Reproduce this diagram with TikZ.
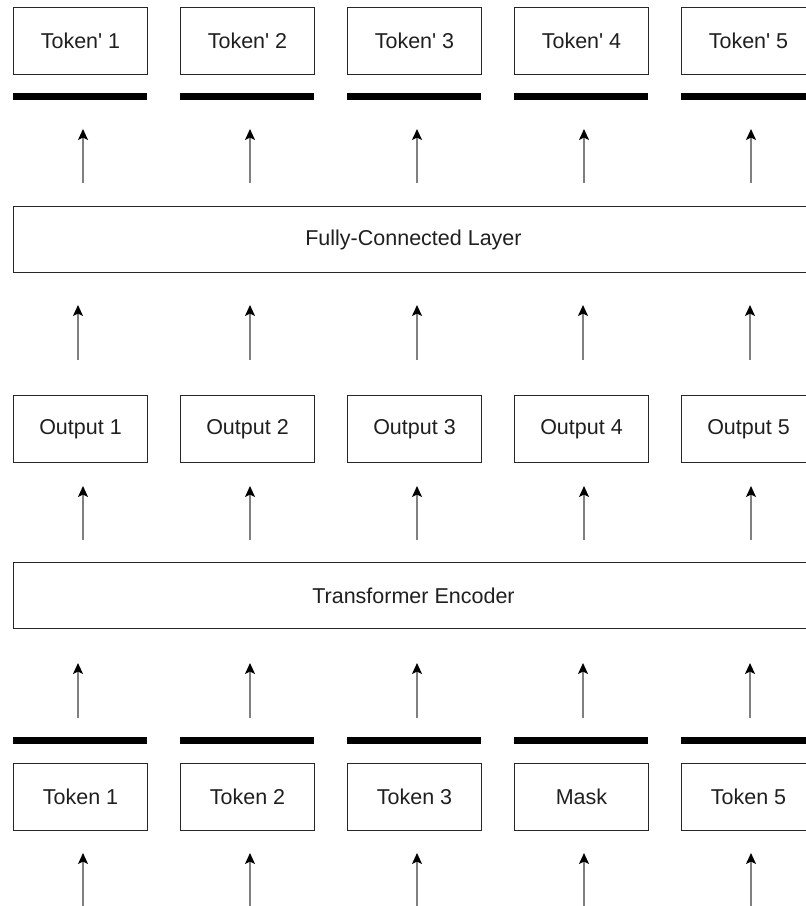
\documentclass[tikz,border=0pt]{standalone}
\usepackage{fontspec}
\newfontfamily\lsans{Liberation Sans}
\usetikzlibrary{arrows.meta}
\begin{document}
\begin{tikzpicture}[x=1pt,y=-1pt,
  box/.style={draw=black!85, line width=1pt, minimum width=134pt, minimum height=67pt,
    inner sep=0pt, anchor=north west, font=\lsans\fontsize{21.5}{25}\selectfont, text=black!88},
  wide/.style={box, minimum width=806pt, minimum height=66pt},
  barnode/.style={fill=black, draw=none, minimum width=134pt, minimum height=7pt,
    inner sep=0pt, anchor=north west},
  arr/.style={draw=black!50, line width=1.5pt,
    -{Stealth[length=11pt,width=10pt,inset=2.5pt,color=black]}}]
\useasboundingbox (0,0) rectangle (806,906);
\clip (0,0) rectangle (806,906);
% top output tokens
\foreach \i/\x in {1/13,2/180,3/347,4/514,5/681}{
  \node[box] (tp\i) at (\x,7) {Token' \i};
  \node[barnode] (bt\i) at (\x,93) {};
  \node[box] (out\i) at (\x,395) {Output \i};
  \node[barnode] (bb\i) at (\x,737) {};
}
\foreach \i/\x/\t in {1/13/Token 1,2/180/Token 2,3/347/Token 3,4/514/Mask,5/681/Token 5}{
  \node[box] (tok\i) at (\x,763) {\t};
}
\node[wide] (fc) at (13,206) {\hspace*{-6pt}Fully-Connected Layer};
\node[wide] (te) at (13,562) {\hspace*{-6pt}Transformer Encoder};
% arrows
\foreach \i/\x in {1/83,2/250,3/417,4/584,5/751}{
  \coordinate (ra\i) at (\x,183); \coordinate (rb\i) at (\x,129);
  \draw[arr] (ra\i) -- (rb\i);
  \coordinate (oa\i) at (\x,540); \coordinate (ob\i) at (\x,486);
  \draw[arr] (oa\i) -- (ob\i);
  \coordinate (ia\i) at (\x,910); \coordinate (ib\i) at (\x,853);
  \draw[arr] (ia\i) -- (ib\i);
}
\foreach \i/\x in {1/78,2/250,3/417,4/583,5/750}{
  \coordinate (fa\i) at (\x,360); \coordinate (fb\i) at (\x,305);
  \draw[arr] (fa\i) -- (fb\i);
  \coordinate (ea\i) at (\x,718); \coordinate (eb\i) at (\x,663);
  \draw[arr] (ea\i) -- (eb\i);
}
\end{tikzpicture}
\end{document}
